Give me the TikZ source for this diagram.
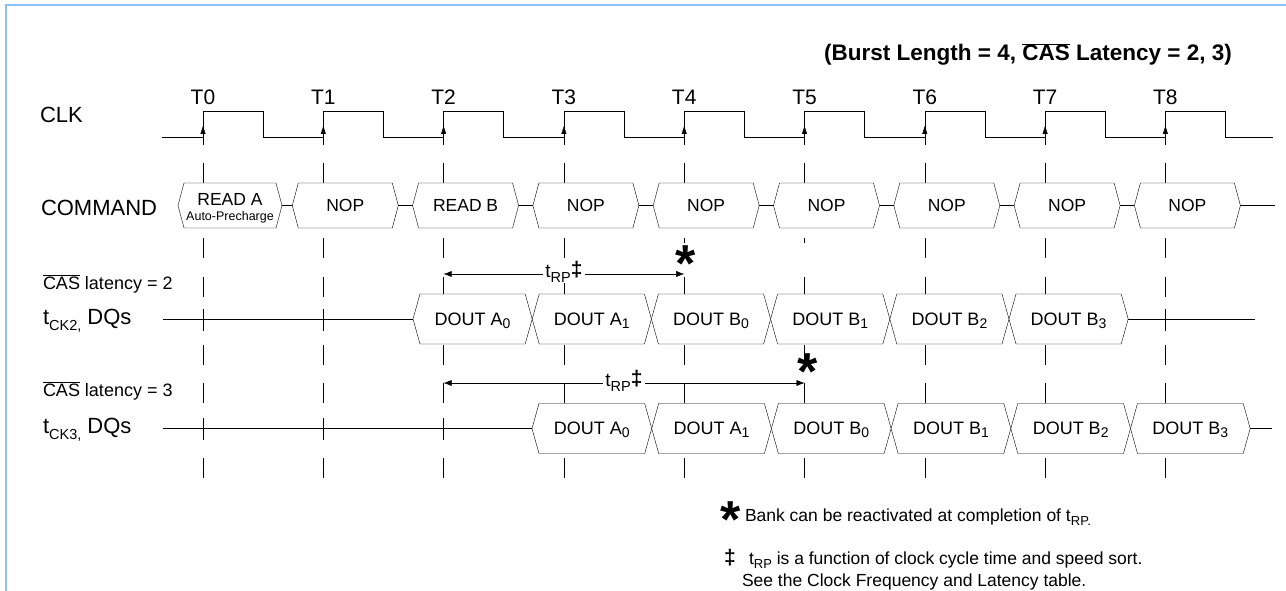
\documentclass[tikz,border=0pt]{standalone}
\usepackage{fontspec}
\setmainfont{Liberation Sans}
\usetikzlibrary{arrows.meta}
\definecolor{frameblue}{RGB}{140,192,250}
\pgfdeclarelayer{back}
\pgfdeclarelayer{boxes}
\pgfsetlayers{back,boxes,main}
\newcommand{\fs}[1]{\fontsize{#1}{#1}\selectfont}
\newcommand{\ovl}[1]{$\overline{\mbox{#1}}$}
\newcommand{\sbs}[1]{\raisebox{-3pt}{\fs{14}#1}}
\newcommand{\hexa}[2]{\begin{pgfonlayer}{boxes}\draw[fill=white] (#1.west) -- ([xshift=#2]#1.north west) -- ([xshift=-#2]#1.north east) -- (#1.east) -- ([xshift=-#2]#1.south east) -- ([xshift=#2]#1.south west) -- cycle;\end{pgfonlayer}}
\begin{document}
\begin{tikzpicture}[x=1pt,y=-1pt,line width=0.95pt,
 every node/.style={inner sep=0pt,outer sep=0pt},
 cmdbox/.style={minimum width=#1,minimum height=45pt,font=\fs{17.5},text height=12.6pt,text depth=0pt},
 dqbox/.style={minimum width=#1,minimum height=50pt,font=\fs{18},text height=12.9pt,text depth=0pt},
 edgetip/.style={-{Triangle[length=8pt,width=5pt]}},
 rparrow/.style={{Latex[length=8pt,width=6pt]}-{Latex[length=8pt,width=6pt]}},
 framestyle/.style={draw=frameblue,line width=2pt},
 lbl/.style={anchor=base west},
 txt/.style={anchor=base},
 astx/.style={font=\bfseries\fs{52},anchor=base},
 lblgap/.style={fill=white,inner xsep=2.5pt,inner ysep=1pt,anchor=base}
]
\useasboundingbox (0,0) rectangle (1286,591);
\draw[framestyle] (6,591) -- (6,5) -- (1286,5);

% title
\node[txt,font=\bfseries\fs{22.5}] (title) at (1028,61) {(Burst Length = 4, \ovl{CAS} Latency = 2, 3)};

% row labels
\node[lbl,font=\fs{22}] (clk) at (40,123) {CLK};
\node[lbl,font=\fs{22}] (cmd) at (41,215) {COMMAND};
\node[lbl,font=\fs{18}] (cl2) at (43,289) {\ovl{CAS} latency = 2};
\node[lbl] (dq2) at (43,324) {\fs{22}t\raisebox{-6pt}{\fs{14.5}CK2,} DQs};
\node[lbl,font=\fs{18}] (cl3) at (43,396) {\ovl{CAS} latency = 3};
\node[lbl] (dq3) at (43,433) {\fs{22}t\raisebox{-6pt}{\fs{14.5}CK3,} DQs};

% vertical dashed guides
\begin{pgfonlayer}{back}
\foreach \i/\cb in {0/258,1/258,2/258,3/258,4/243,5/243,6/258,7/258,8/258}{
  \pgfmathsetmacro\tx{203+120.3*\i}
  \draw (\tx,238) -- (\tx,\cb);
  \foreach \a/\b in {137/145,163/183,277/297,309/331,345/365,383/403,418/440,458/478}
    \draw (\tx,\a) -- (\tx,\b);
}
\end{pgfonlayer}

% clock
\draw (162,137) \foreach \i in {0,...,8}{ -- ({203+120.3*\i},137) -- ({203+120.3*\i},111) -- ({263+120.3*\i},111) -- ({263+120.3*\i},137)} -- (1273,137);
\foreach \i in {0,...,8}{
  \draw[edgetip] ({203+120.3*\i},137) -- ({203+120.3*\i},126);
  \node[txt,font=\fs{21}] (tl\i) at ({203+120.3*\i},104.5) {T\i};
}

% command row
\node[cmdbox=104pt] (c0) at (230,205.5) {};
\hexa{c0}{6pt}
\node[txt,font=\fs{17.5}] (c0a) at (230,206) {READ A};
\node[txt,font=\fs{12.5}] (c0b) at (230,220) {Auto-Precharge};
\foreach \i/\t in {1/NOP,2/READ B,3/NOP,4/NOP,5/NOP,6/NOP,7/NOP,8/NOP}{
  \pgfmathsetmacro\cx{225+120.3*\i}
  \node[cmdbox=106pt] (c\i) at (\cx,205.5) {\t};
  \hexa{c\i}{6pt}
}
\foreach \i [count=\j from 1] in {0,...,7} \draw (c\i.east) -- (c\j.west);
\coordinate (cend) at (1275,205.5);
\draw (c8.east) -- (cend);

% CAS latency 2 data
\foreach \k/\t in {0/A\sbs{0},1/A\sbs{1},2/B\sbs{0},3/B\sbs{1},4/B\sbs{2},5/B\sbs{3}}{
  \pgfmathsetmacro\cx{413+119.2*(\k+0.5)}
  \node[dqbox=119.2pt] (p\k) at (\cx,319) {DOUT \t};
  \hexa{p\k}{7pt}
}
\coordinate (pin) at (163,319);
\coordinate (pout) at (1255,319);
\draw (pin) -- (p0.west);
\draw (p5.east) -- (pout);

% CAS latency 3 data
\foreach \k/\t in {0/A\sbs{0},1/A\sbs{1},2/B\sbs{0},3/B\sbs{1},4/B\sbs{2},5/B\sbs{3}}{
  \pgfmathsetmacro\cx{532+119.7*(\k+0.5)}
  \node[dqbox=119.7pt] (q\k) at (\cx,428.5) {DOUT \t};
  \hexa{q\k}{7pt}
}
\coordinate (qin) at (163,428.5);
\coordinate (qout) at (1272,428.5);
\draw (qin) -- (q0.west);
\draw (q5.east) -- (qout);

% tRP spans
\coordinate (ra) at (443.6,274);
\coordinate (rb) at (684.2,274);
\draw[rparrow] (ra) -- (rb);
\node[lblgap,font=\fs{19}] (ral) at (564,277) {t\raisebox{-5pt}{\fs{14.5}RP}\raisebox{1pt}{\bfseries\fs{21}‡}};
\node[astx] (sa) at (686,281) {*};

\coordinate (sa3) at (443.6,383);
\coordinate (sb3) at (804.5,383);
\draw[rparrow] (sa3) -- (sb3);
\node[lblgap,font=\fs{19}] (rbl) at (624,386) {t\raisebox{-5pt}{\fs{14.5}RP}\raisebox{1pt}{\bfseries\fs{21}‡}};
\node[astx] (sb) at (807.5,389.5) {*};

% footnotes
\node[astx] (fa) at (731,537) {*};
\node[lbl,font=\fs{17.5}] (fn1) at (745,521) {Bank can be reactivated at completion of t\raisebox{-4pt}{\fs{13}RP.}};
\node[font=\bfseries\fs{21}] (fb) at (730,558) {‡};
\node[lbl,font=\fs{17.5}] (fn2) at (749,564) {t\raisebox{-4pt}{\fs{13}RP} is a function of clock cycle time and speed sort.};
\node[lbl,font=\fs{17.5}] (fn3) at (742,586) {See the Clock Frequency and Latency table.};
\end{tikzpicture}
\end{document}
